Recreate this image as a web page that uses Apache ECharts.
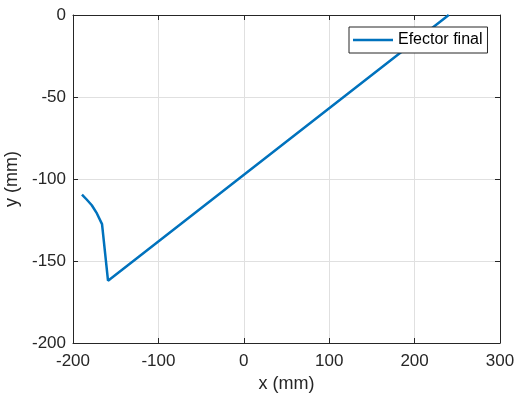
<!DOCTYPE html>
<html>
<head>
<meta charset="utf-8">
<script src="https://cdn.jsdelivr.net/npm/echarts@6/dist/echarts.min.js"></script>
<style>html,body{margin:0;padding:0;background:#fff}#c{width:517px;height:398px}</style>
</head>
<body>
<div id="c"></div>
<script>
const seriesName = 'Efector final';
const xValues = [-189.5, -184, -178, -172, -166, -159, 240];
const yValues = [-109.5, -112.5, -116, -121, -127.5, -162, 0];
const xTicks = [-200, -100, 0, 100, 200, 300];
const yTicks = [-200, -150, -100, -50, 0];

const pts = xValues.map((x, i) => [x, yValues[i]]);
const font = "'Liberation Sans', Arial, Helvetica, sans-serif";
const axisCol = '#262626';
const gridCol = '#e0e0e0';

const chart = echarts.init(document.getElementById('c'), null, {renderer: 'canvas'});
const baseX = {
  type: 'value', min: xTicks[0], max: xTicks[xTicks.length-1], interval: 100,
  axisLine: {show: true, onZero: false, lineStyle: {color: axisCol, width: 1}},
  axisTick: {show: true, inside: true, length: 5, lineStyle: {color: axisCol}},
  splitLine: {show: false}
};
const baseY = {
  type: 'value', min: yTicks[0], max: yTicks[yTicks.length-1], interval: 50,
  axisLine: {show: true, onZero: false, lineStyle: {color: axisCol, width: 1}},
  axisTick: {show: true, inside: true, length: 5, lineStyle: {color: axisCol}},
  splitLine: {show: false}
};
chart.setOption({
  animation: false,
  backgroundColor: '#fff',
  grid: {left: 73, right: 17, top: 15, bottom: 55, containLabel: false, outerBoundsMode: 'none'},
  legend: {
    data: [seriesName], left: 349, top: 27,
    icon: 'rect', itemWidth: 40, itemHeight: 2.5,
    padding: [5, 5, 5, 4],
    borderColor: axisCol, borderWidth: 1, backgroundColor: '#fff',
    textStyle: {fontFamily: font, fontSize: 16, color: '#000', lineHeight: 16}
  },
  xAxis: [
    Object.assign({}, baseX, {
      position: 'bottom', name: 'x (mm)', nameLocation: 'middle', nameGap: 25,
      nameTextStyle: {fontFamily: font, fontSize: 18, color: axisCol},
      axisLabel: {fontFamily: font, fontSize: 17, color: axisCol, margin: 10},
      splitLine: {show: true, lineStyle: {color: gridCol, width: 1}}
    }),
    Object.assign({}, baseX, {position: 'top', axisLabel: {show: false}})
  ],
  yAxis: [
    Object.assign({}, baseY, {
      position: 'left', name: 'y (mm)', nameLocation: 'middle', nameGap: 40,
      nameTextStyle: {fontFamily: font, fontSize: 18, color: axisCol},
      axisLabel: {fontFamily: font, fontSize: 17, color: axisCol, margin: 7},
      splitLine: {show: true, lineStyle: {color: gridCol, width: 1}}
    }),
    Object.assign({}, baseY, {position: 'right', axisLabel: {show: false}})
  ],
  series: [{
    name: seriesName, type: 'line', data: pts, showSymbol: false, symbol: 'none',
    lineStyle: {color: '#0072BD', width: 2.5}, itemStyle: {color: '#0072BD'},
    clip: true, z: 3
  }]
});
</script>
</body>
</html>
